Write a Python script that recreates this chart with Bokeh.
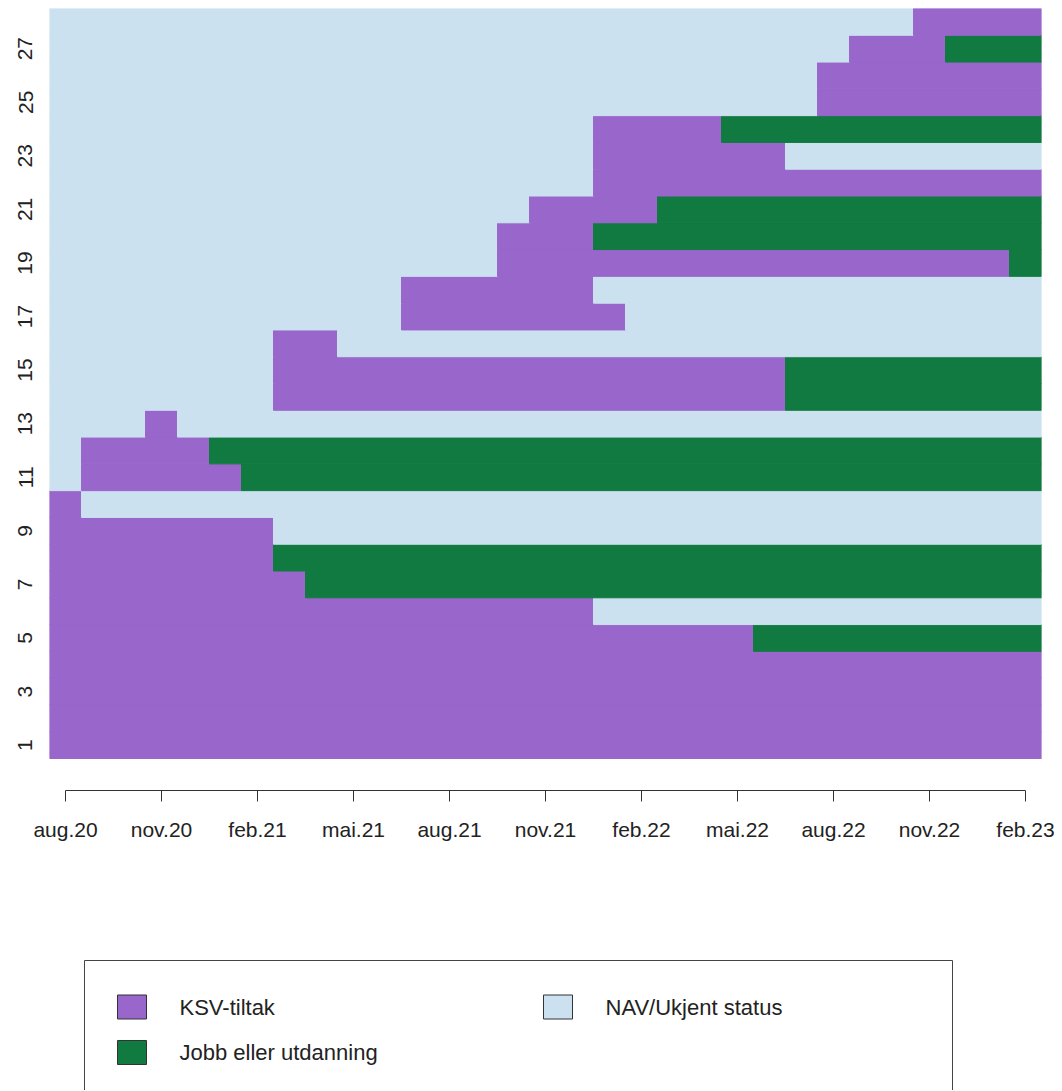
from bokeh.plotting import figure
from bokeh.models import Range1d, FixedTicker, ColumnDataSource
from bokeh.layouts import column
from bokeh.embed import file_html
from bokeh.resources import INLINE
from bokeh.core.properties import value

# ---------------- data ----------------
months = ["aug.20", "sep.20", "okt.20", "nov.20", "des.20", "jan.21", "feb.21",
          "mar.21", "apr.21", "mai.21", "jun.21", "jul.21", "aug.21", "sep.21",
          "okt.21", "nov.21", "des.21", "jan.22", "feb.22", "mar.22", "apr.22",
          "mai.22", "jun.22", "jul.22", "aug.22", "sep.22", "okt.22", "nov.22",
          "des.22", "jan.23", "feb.23"]
tick_months = ["aug.20", "nov.20", "feb.21", "mai.21", "aug.21", "nov.21",
               "feb.22", "mai.22", "aug.22", "nov.22", "feb.23"]
row_ids = list(range(1, 29))
y_ticks = [1, 3, 5, 7, 9, 11, 13, 15, 17, 19, 21, 23, 25, 27]

status_codes = ["K", "J", "N"]
status_labels = ["KSV-tiltak", "Jobb eller utdanning", "NAV/Ukjent status"]
status_colors = ["#9966CC", "#117A41", "#CCE1EF"]

# status per person (row 1 .. 28) as runs of (status, number of months)
row_runs = [
    [("K", 31)],
    [("K", 31)],
    [("K", 31)],
    [("K", 31)],
    [("K", 22), ("J", 9)],
    [("K", 17), ("N", 14)],
    [("K", 8), ("J", 23)],
    [("K", 7), ("J", 24)],
    [("K", 7), ("N", 24)],
    [("K", 1), ("N", 30)],
    [("N", 1), ("K", 5), ("J", 25)],
    [("N", 1), ("K", 4), ("J", 26)],
    [("N", 3), ("K", 1), ("N", 27)],
    [("N", 7), ("K", 16), ("J", 8)],
    [("N", 7), ("K", 16), ("J", 8)],
    [("N", 7), ("K", 2), ("N", 22)],
    [("N", 11), ("K", 7), ("N", 13)],
    [("N", 11), ("K", 6), ("N", 14)],
    [("N", 14), ("K", 16), ("J", 1)],
    [("N", 14), ("K", 3), ("J", 14)],
    [("N", 15), ("K", 4), ("J", 12)],
    [("N", 17), ("K", 14)],
    [("N", 17), ("K", 6), ("N", 8)],
    [("N", 17), ("K", 4), ("J", 10)],
    [("N", 24), ("K", 7)],
    [("N", 24), ("K", 7)],
    [("N", 25), ("K", 3), ("J", 3)],
    [("N", 27), ("K", 4)],
]

# ---------------- build cells ----------------
color_of = dict(zip(status_codes, status_colors))
cells = dict(left=[], right=[], bottom=[], top=[], color=[])
for r, runs in zip(row_ids, row_runs):
    start = 0
    for code, n in runs:
        cells["left"].append(start - 0.5)
        cells["right"].append(start + n - 0.5)
        cells["bottom"].append(r - 0.5)
        cells["top"].append(r + 0.5)
        cells["color"].append(color_of[code])
        start += n
    assert start == len(months)

FONT = "Liberation Sans"
TXT = "#222222"
CELL_H = 750 / 28.0
GAP = 32.0

# page geometry (pixels)
BL, BR, BT, BB = 49, 21, 8, 70
FW, FH = 992, 782

p = figure(frame_width=FW, frame_height=FH,
           x_range=Range1d(-0.5, len(months) - 0.5),
           y_range=Range1d(0.5 - GAP / CELL_H, len(row_ids) + 0.5),
           toolbar_location=None, output_backend="svg",
           min_border_left=BL, min_border_right=BR, min_border_top=BT,
           min_border_bottom=BB)
p.outline_line_color = None
p.grid.visible = False

p.quad(left="left", right="right", bottom="bottom", top="top",
       fill_color="color", line_color="color", line_width=1,
       source=ColumnDataSource(cells))

xa = p.xaxis[0]
xa.ticker = FixedTicker(ticks=[months.index(m) for m in tick_months])
xa.major_label_overrides = {months.index(m): m for m in tick_months}
xa.bounds = (months.index(tick_months[0]), months.index(tick_months[-1]))
xa.axis_line_color = "#333333"
xa.major_tick_line_color = "#333333"
xa.major_tick_out = 11
xa.major_tick_in = 0
xa.minor_tick_line_color = None
xa.major_label_standoff = 16
xa.major_label_text_font = FONT
xa.major_label_text_font_size = "21px"
xa.major_label_text_color = TXT

ya = p.yaxis[0]
ya.ticker = FixedTicker(ticks=y_ticks)
ya.axis_line_color = None
ya.major_tick_line_color = None
ya.minor_tick_line_color = None
ya.major_tick_out = 0
ya.major_tick_in = 0
ya.major_label_orientation = "vertical"
ya.major_label_standoff = 17
ya.major_label_text_font = FONT
ya.major_label_text_font_size = "21px"
ya.major_label_text_color = TXT

# ---------------- legend panel (page-pixel coordinates) ----------------
TOP2 = BT + FH + BB          # page y where the legend panel starts
H2 = 1090 - TOP2
q = figure(frame_width=FW, frame_height=H2,
           x_range=Range1d(BL, BL + FW), y_range=Range1d(TOP2 + H2, TOP2),
           toolbar_location=None, output_backend="svg",
           min_border_left=BL, min_border_right=BR, min_border_top=0,
           min_border_bottom=0, x_axis_location=None, y_axis_location=None)
q.outline_line_color = None
q.grid.visible = False

q.quad(left=[84], right=[952], top=[960], bottom=[1160],
       fill_color=None, line_color="#444444", line_width=1)

col_x = [117, 543]
row_y = [1006.5, 1052]
sq_l, sq_r, sq_t, sq_b, sq_c, tx, ty = [], [], [], [], [], [], []
for i, (lab, colr) in enumerate(zip(status_labels, status_colors)):
    cx = col_x[i // 2]
    cy = row_y[i % 2]
    sq_l.append(cx); sq_r.append(cx + 29)
    sq_t.append(cy - 12); sq_b.append(cy + 12)
    sq_c.append(colr)
    tx.append(cx + 62); ty.append(cy)
q.quad(left=sq_l, right=sq_r, top=sq_t, bottom=sq_b, fill_color=sq_c,
       line_color="#333333", line_width=1)
q.text(x=tx, y=ty, text=status_labels, text_font=value(FONT),
       text_font_size="22px", text_color=TXT, text_baseline="middle",
       text_align="left")

layout = column(p, q, spacing=0)
open("out.html", "w").write(file_html(layout, INLINE))
